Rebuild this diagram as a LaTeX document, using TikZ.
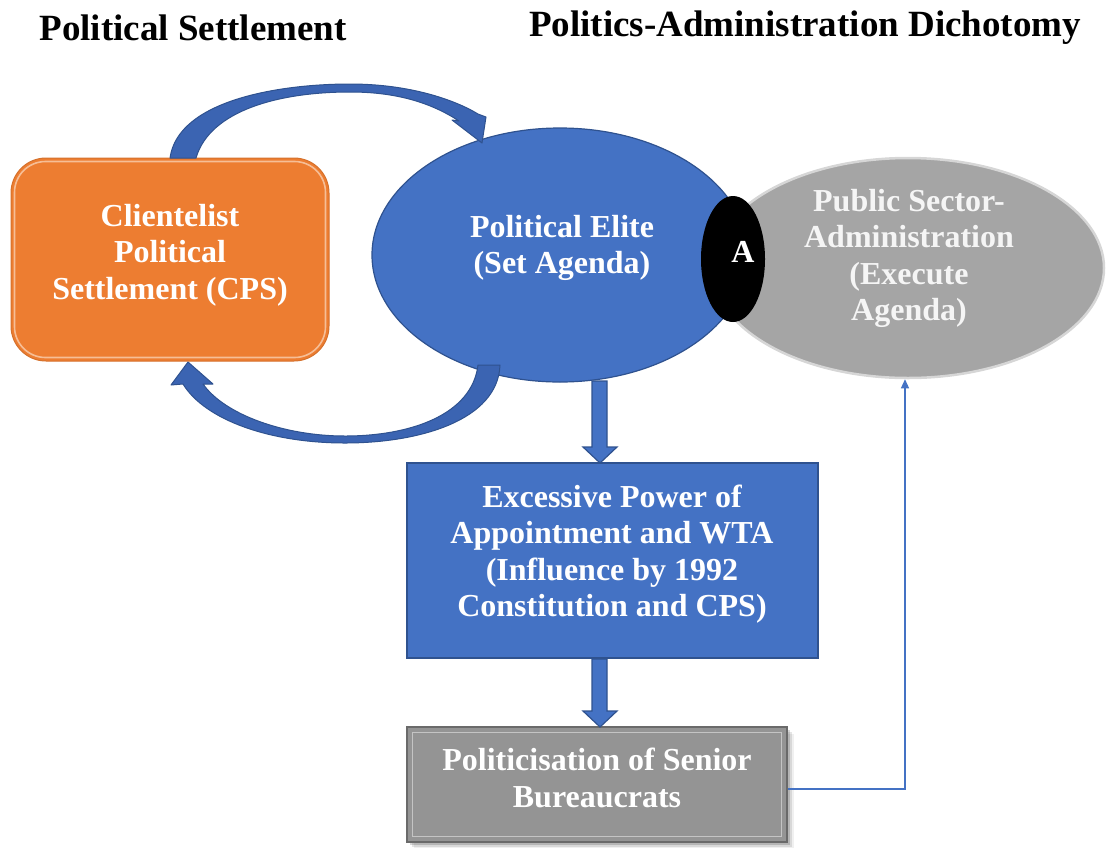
\documentclass[tikz,border=0pt]{standalone}
\usepackage{fontspec}
\setmainfont{Liberation Serif}
\usetikzlibrary{shapes.geometric,arrows.meta,calc}
\definecolor{accblue}{HTML}{4472C4}
\definecolor{darkblue}{HTML}{2F528F}
\definecolor{arcblue}{HTML}{3B64B2}
\definecolor{accorange}{HTML}{ED7D31}
\definecolor{orangeline}{HTML}{F6BE96}
\definecolor{greyfill}{HTML}{A5A5A5}
\definecolor{greyedge}{HTML}{D6D6D6}
\definecolor{boxgrey}{HTML}{949494}
\definecolor{boxedge}{HTML}{6A6A6A}
\definecolor{boxinner}{HTML}{C4C4C4}
\begin{document}
\begin{tikzpicture}[x=1pt,y=-1pt,
  titletext/.style={font=\bfseries\fontsize{37}{40}\selectfont, inner sep=0},
  lbl/.style={text=white, font=\bfseries\fontsize{32}{36.5}\selectfont, align=center, inner sep=0},
  blockarrow/.style={fill=accblue, draw=darkblue, line width=1.2pt, line join=miter},
  arcarrow/.style={fill=arcblue, draw=darkblue, line width=1pt, line join=round},
  thinlink/.style={draw=accblue, line width=1.1pt, -{Triangle[length=9pt,width=8pt]}}]
\useasboundingbox (0,0) rectangle (1110,847);

% headings
\node[titletext] (t1) at (193,28) {Political Settlement};
\node[titletext] (t2) at (805,28) {Politics-Administration Dichotomy};

% clientelist settlement box
\node[rectangle, rounded corners=35pt, fill=accorange, draw=accorange!90!black, line width=1pt,
      minimum width=318pt, minimum height=203pt, inner sep=0] (cps) at (170,259.5) {};
\draw[orangeline, line width=1.6pt, rounded corners=31pt]
  ([shift={(4,4)}]cps.north west) rectangle ([shift={(-4,-4)}]cps.south east);
\node[lbl] (cpst) at (170,255) {Clientelist\\Political\\Settlement (CPS)};

% administration ellipse, political elite ellipse and overlap
\node[ellipse, fill=greyfill, draw=greyedge, line width=2.5pt,
      minimum width=392pt, minimum height=220pt, inner sep=0] (pub) at (908,268) {};
\node[ellipse, fill=accblue, draw=darkblue, line width=1.2pt,
      minimum width=376pt, minimum height=254pt, inner sep=0] (elite) at (560,255) {};
\node[ellipse, fill=black, minimum width=64pt, minimum height=126pt, inner sep=0] (a) at (733,259) {};
\node[lbl] (at) at (743,252) {A};
\node[lbl] (elitet) at (562,248) {Political Elite\\(Set Agenda)};
\node[lbl, text=white!96!black] (pubt) at (909,258.5) {Public Sector-\\Administration\\(Execute\\Agenda)};

% curved arrows between settlement and elite
\path[arcarrow] (170,158) .. controls (178,100) and (280,84) .. (350,84)
  .. controls (410,84) and (455,100) .. (478,114) -- (486,117) -- (482,143) -- (452,120) -- (459,121)
  .. controls (430,102) and (395,92) .. (350,92)
  .. controls (280,92) and (210,110) .. (196,158) -- cycle;
\path[arcarrow] (500,365) .. controls (498,420) and (420,443) .. (345,443)
  .. controls (270,443) and (205,420) .. (183,384) -- (171,385) -- (188,362) -- (213,384) -- (203,384)
  .. controls (225,415) and (285,436) .. (345,436)
  .. controls (410,436) and (472,415) .. (478,365) -- cycle;

% appointment power box
\node[rectangle, fill=accblue, draw=darkblue, line width=1.5pt,
      minimum width=411pt, minimum height=195pt, inner sep=0] (wta) at (612.5,560.5) {};
\node[lbl] (wtat) at (612,554) {Excessive Power of\\Appointment and WTA\\(Influence by 1992\\Constitution and CPS)};

% politicisation box with soft shadow
\foreach \d/\o in {7/0.06,5/0.10,3/0.16}
  \fill[black, opacity=\o] (407+\d,727+\d) rectangle (787+\d,842+\d);
\node[rectangle, fill=boxgrey, draw=boxedge, line width=1.5pt,
      minimum width=380pt, minimum height=115pt, inner sep=0] (bur) at (597,784.5) {};
\draw[boxinner, line width=1.2pt] ([shift={(6,6)}]bur.north west) rectangle ([shift={(-6,-6)}]bur.south east);
\node[lbl] (burt) at (597,778) {Politicisation of Senior\\Bureaucrats};

% block arrows down
\path[blockarrow] (592,381) -- (607,381) -- (607,447) -- (617,447) -- (600,463) -- (583,447) -- (592,447) -- cycle;
\path[blockarrow] (592,659) -- (607,659) -- (607,711) -- (617,711) -- (600,727) -- (583,711) -- (592,711) -- cycle;

% feedback line to the administration
\draw[thinlink] ([yshift=-4.5pt]bur.east) -| ([xshift=-3pt]pub.south);
\end{tikzpicture}
\end{document}
